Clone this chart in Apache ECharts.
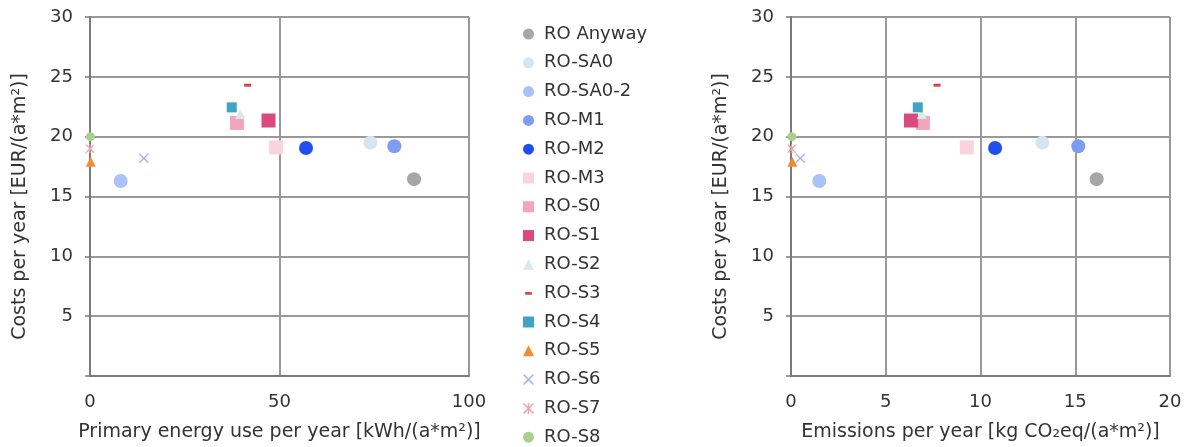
<!DOCTYPE html>
<html>
<head>
<meta charset="utf-8">
<script src="https://cdn.jsdelivr.net/npm/echarts@6/dist/echarts.min.js"></script>
<style>
html,body{margin:0;padding:0;background:#fff;}
#chart{width:1190px;height:447px;}
</style>
</head>
<body>
<div id="chart"></div>
<script>
// ---- data ----
var names = ['RO Anyway','RO-SA0','RO-SA0-2','RO-M1','RO-M2','RO-M3','RO-S0','RO-S1','RO-S2','RO-S3','RO-S4','RO-S5','RO-S6','RO-S7','RO-S8'];
var primaryEnergy = [85.5, 74.0, 8.1, 80.3, 57.0, 49.1, 38.8, 47.1, 39.6, 41.6, 37.4, 0.2, 14.2, 0.0, 0.1];
var emissions = [16.13, 13.26, 1.49, 15.16, 10.77, 9.28, 6.96, 6.33, 6.9, 7.71, 6.69, 0.07, 0.49, 0.04, 0.05];
var costs = [16.45, 19.5, 16.3, 19.2, 19.05, 19.1, 21.15, 21.35, 21.9, 24.3, 22.45, 17.9, 18.2, 19.0, 20.0];
var yTicks = [0, 5, 10, 15, 20, 25, 30];
var xTicksEnergy = [0, 50, 100];
var xTicksEmis = [0, 5, 10, 15, 20];

// ---- styles ----
var xPath = 'path://M0,1L1,0L5,4L9,0L10,1L6,5L10,9L9,10L5,6L1,10L0,9L4,5Z';
var starPath = 'path://M0,1L1,0L5,4L9,0L10,1L6,5L10,9L9,10L5,6L1,10L0,9L4,5Z M4.4,0L5.6,0L5.6,10L4.4,10Z';
var dashIcon = 'path://M0,0L0.01,0L0,0.01Z M2,4L8,4L8,6.4L2,6.4Z M10,10L9.99,10L10,9.99Z';
var colors = ['#a6a6a6','#d4e6f4','#a9c3f6','#7e9cf6','#1f4ff0','#f9d3de','#f2a5bd','#da4a7c','#d5ece9','#d9443f','#3ea4c6','#f68b2e','#a5b6e6','#f0a3ac','#a9d18e'];
var symbols = ['circle','circle','circle','circle','circle','rect','rect','rect','triangle','rect','rect','triangle',xPath,starPath,'circle'];
var sizes = [14,14,14,14,14,14,14,14,10,[7,3],10,10,10,9,9];
var legendIcons = ['circle','circle','circle','circle','circle','rect','rect','rect','triangle',dashIcon,'rect','triangle',xPath,starPath,'circle'];

var FONT = 'DejaVu Sans';
var TXT = '#333333';
var GRIDC = '#999999';
var AXISC = '#7a7a7a';

function yAxis(gi) {
  return {
    type: 'value', gridIndex: gi, min: 0, max: 30, interval: 5,
    name: 'Costs per year [EUR/(a*m²)]', nameLocation: 'middle', nameGap: 60,
    nameTextStyle: {fontFamily: FONT, fontSize: 19, color: TXT, padding: [0, 20, 0, 0]},
    axisLine: {show: true, lineStyle: {color: AXISC, width: 2}},
    axisTick: {show: true, length: 5, lineStyle: {color: AXISC, width: 1.5}},
    axisLabel: {fontFamily: FONT, fontSize: 18, color: TXT, margin: 17,
      formatter: function (v) { return (v === yTicks[0]) ? '' : String(v); }},
    splitLine: {show: true, lineStyle: {color: GRIDC, width: 2}}
  };
}
function xAxis(gi, maxV, step, title) {
  return {
    type: 'value', gridIndex: gi, min: 0, max: maxV, interval: step,
    name: title, nameLocation: 'middle', nameGap: 47,
    nameTextStyle: {fontFamily: FONT, fontSize: 19, color: TXT},
    axisLine: {show: true, onZero: false, lineStyle: {color: AXISC, width: 2}},
    axisTick: {show: false},
    axisLabel: {fontFamily: FONT, fontSize: 18, color: TXT, margin: 17},
    splitLine: {show: true, lineStyle: {color: GRIDC, width: 2}}
  };
}

var series = [];
names.forEach(function (n, i) {
  var base = {
    name: n, type: 'scatter', symbol: symbols[i], symbolSize: sizes[i],
    itemStyle: {color: colors[i], opacity: 1}, z: 2 + i * 0.01
  };
  series.push(Object.assign({}, base, {xAxisIndex: 0, yAxisIndex: 0,
    data: [[primaryEnergy[i], costs[i]]]}));
  series.push(Object.assign({}, base, {xAxisIndex: 1, yAxisIndex: 1,
    data: [[emissions[i], costs[i]]]}));
});

var chart = echarts.init(document.getElementById('chart'), null, {renderer: 'canvas'});
chart.setOption({
  animation: false,
  backgroundColor: '#fff',
  grid: [
    {left: 90, top: 17, width: 379, height: 363},
    {left: 791, top: 17, width: 379, height: 362}
  ],
  xAxis: [
    xAxis(0, xTicksEnergy[xTicksEnergy.length - 1], xTicksEnergy[1] - xTicksEnergy[0], 'Primary energy use per year [kWh/(a*m²)]'),
    xAxis(1, xTicksEmis[xTicksEmis.length - 1], xTicksEmis[1] - xTicksEmis[0], 'Emissions per year [kg CO₂eq/(a*m²)]')
  ],
  yAxis: [yAxis(0), yAxis(1)],
  legend: {
    orient: 'vertical', left: 523, top: 24, height: 440, padding: 0,
    itemWidth: 11, itemHeight: 11, itemGap: 8.8,
    textStyle: {fontFamily: FONT, fontSize: 18, color: TXT, lineHeight: 20, padding: [0, 0, 0, 5]},
    data: names.map(function (n, i) { return {name: n, icon: legendIcons[i]}; })
  },
  series: series
});
</script>
</body>
</html>
